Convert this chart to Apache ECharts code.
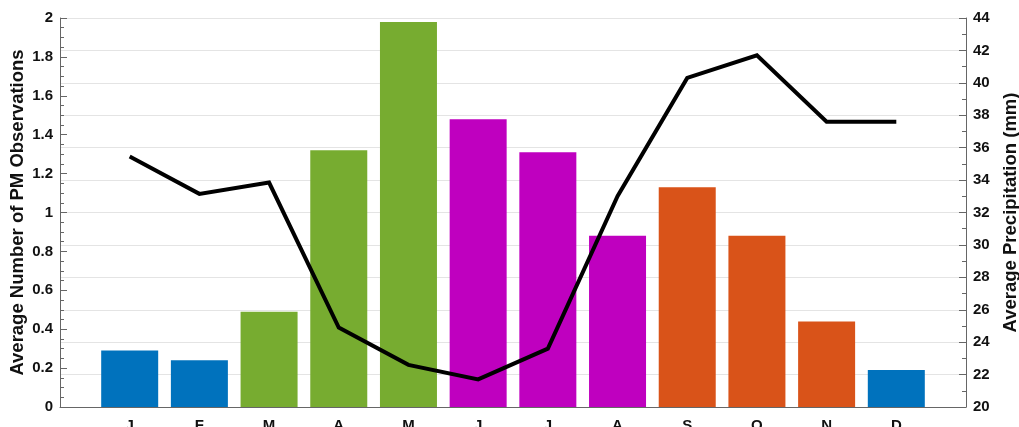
<!DOCTYPE html>
<html>
<head>
<meta charset="utf-8">
<script src="https://cdn.jsdelivr.net/npm/echarts@6/dist/echarts.min.js"></script>
<style>
  html, body { margin: 0; padding: 0; background: #fff; }
  #chart { width: 1019px; height: 427px; }
</style>
</head>
<body>
<div id="chart"></div>
<script>
// Month initials along the bottom
const months = ['J', 'F', 'M', 'A', 'M', 'J', 'J', 'A', 'S', 'O', 'N', 'D'];
// Average number of PM observations per month (left axis)
const pmObservations = [0.29, 0.24, 0.49, 1.32, 1.98, 1.48, 1.31, 0.88, 1.13, 0.88, 0.44, 0.19];
// Average precipitation per month, mm (right axis)
const precipitation = [35.45, 33.15, 33.85, 24.9, 22.6, 21.7, 23.6, 33.0, 40.3, 41.7, 37.6, 37.6];
// Season colour for each month
const seasonColors = ['#0072BD', '#0072BD', '#77AC30', '#77AC30', '#77AC30', '#BF00BF',
                      '#BF00BF', '#BF00BF', '#D95319', '#D95319', '#D95319', '#0072BD'];

const font = '"Liberation Sans", Arial, sans-serif';
const axisGray = '#666';

const chart = echarts.init(document.getElementById('chart'));
chart.setOption({
  animation: false,
  backgroundColor: '#fff',
  grid: {
    left: 60, right: 53, top: 18, bottom: 20,
    containLabel: false, outerBoundsMode: 'none'
  },
  xAxis: {
    type: 'value',
    min: 0, max: 13, interval: 1,
    axisLine: { show: true, lineStyle: { color: axisGray, width: 1 } },
    axisTick: { show: false },
    splitLine: { show: false },
    axisLabel: {
      margin: 11,
      fontFamily: font, fontWeight: 'bold', fontSize: 15, color: '#111',
      formatter: v => (v >= 1 && v <= 12) ? months[v - 1] : ''
    }
  },
  yAxis: [
    {
      type: 'value',
      min: 0, max: 2, interval: 0.2,
      name: 'Average Number of PM Observations',
      nameLocation: 'middle', nameRotate: 90, nameGap: 33, nameMoveOverlap: false,
      nameTextStyle: { fontFamily: font, fontWeight: 'bold', fontSize: 18.5, color: '#111' },
      axisLine: { show: true, lineStyle: { color: axisGray, width: 1 } },
      axisTick: { show: true, inside: true, length: 7, lineStyle: { color: axisGray } },
      minorTick: { show: true, splitNumber: 4, length: 4, lineStyle: { color: axisGray } },
      splitLine: { show: false },
      axisLabel: {
        margin: 7,
        fontFamily: font, fontWeight: 'bold', fontSize: 15, color: '#111',
        formatter: v => String(Math.round(v * 10) / 10)
      }
    },
    {
      type: 'value',
      position: 'right',
      min: 20, max: 44, interval: 2,
      name: 'Average Precipitation (mm)',
      nameLocation: 'middle', nameRotate: 90, nameGap: 35, nameMoveOverlap: false,
      nameTextStyle: { fontFamily: font, fontWeight: 'bold', fontSize: 18.5, color: '#111' },
      axisLine: { show: true, lineStyle: { color: axisGray, width: 1 } },
      axisTick: { show: true, inside: true, length: 7, lineStyle: { color: axisGray } },
      minorTick: { show: true, splitNumber: 2, length: 4, lineStyle: { color: axisGray } },
      splitLine: { show: true, lineStyle: { color: '#e4e4e4', width: 1 } },
      axisLabel: {
        margin: 7,
        fontFamily: font, fontWeight: 'bold', fontSize: 15, color: '#111'
      }
    }
  ],
  series: [
    {
      type: 'bar',
      yAxisIndex: 0,
      barWidth: 57,
      data: pmObservations.map((v, i) => ({
        value: [i + 1, v],
        itemStyle: { color: seasonColors[i] }
      }))
    },
    {
      type: 'line',
      yAxisIndex: 1,
      z: 5,
      symbol: 'none',
      lineStyle: { color: '#000', width: 4, join: 'miter' },
      data: precipitation.map((v, i) => [i + 1, v])
    }
  ]
});
</script>
</body>
</html>
